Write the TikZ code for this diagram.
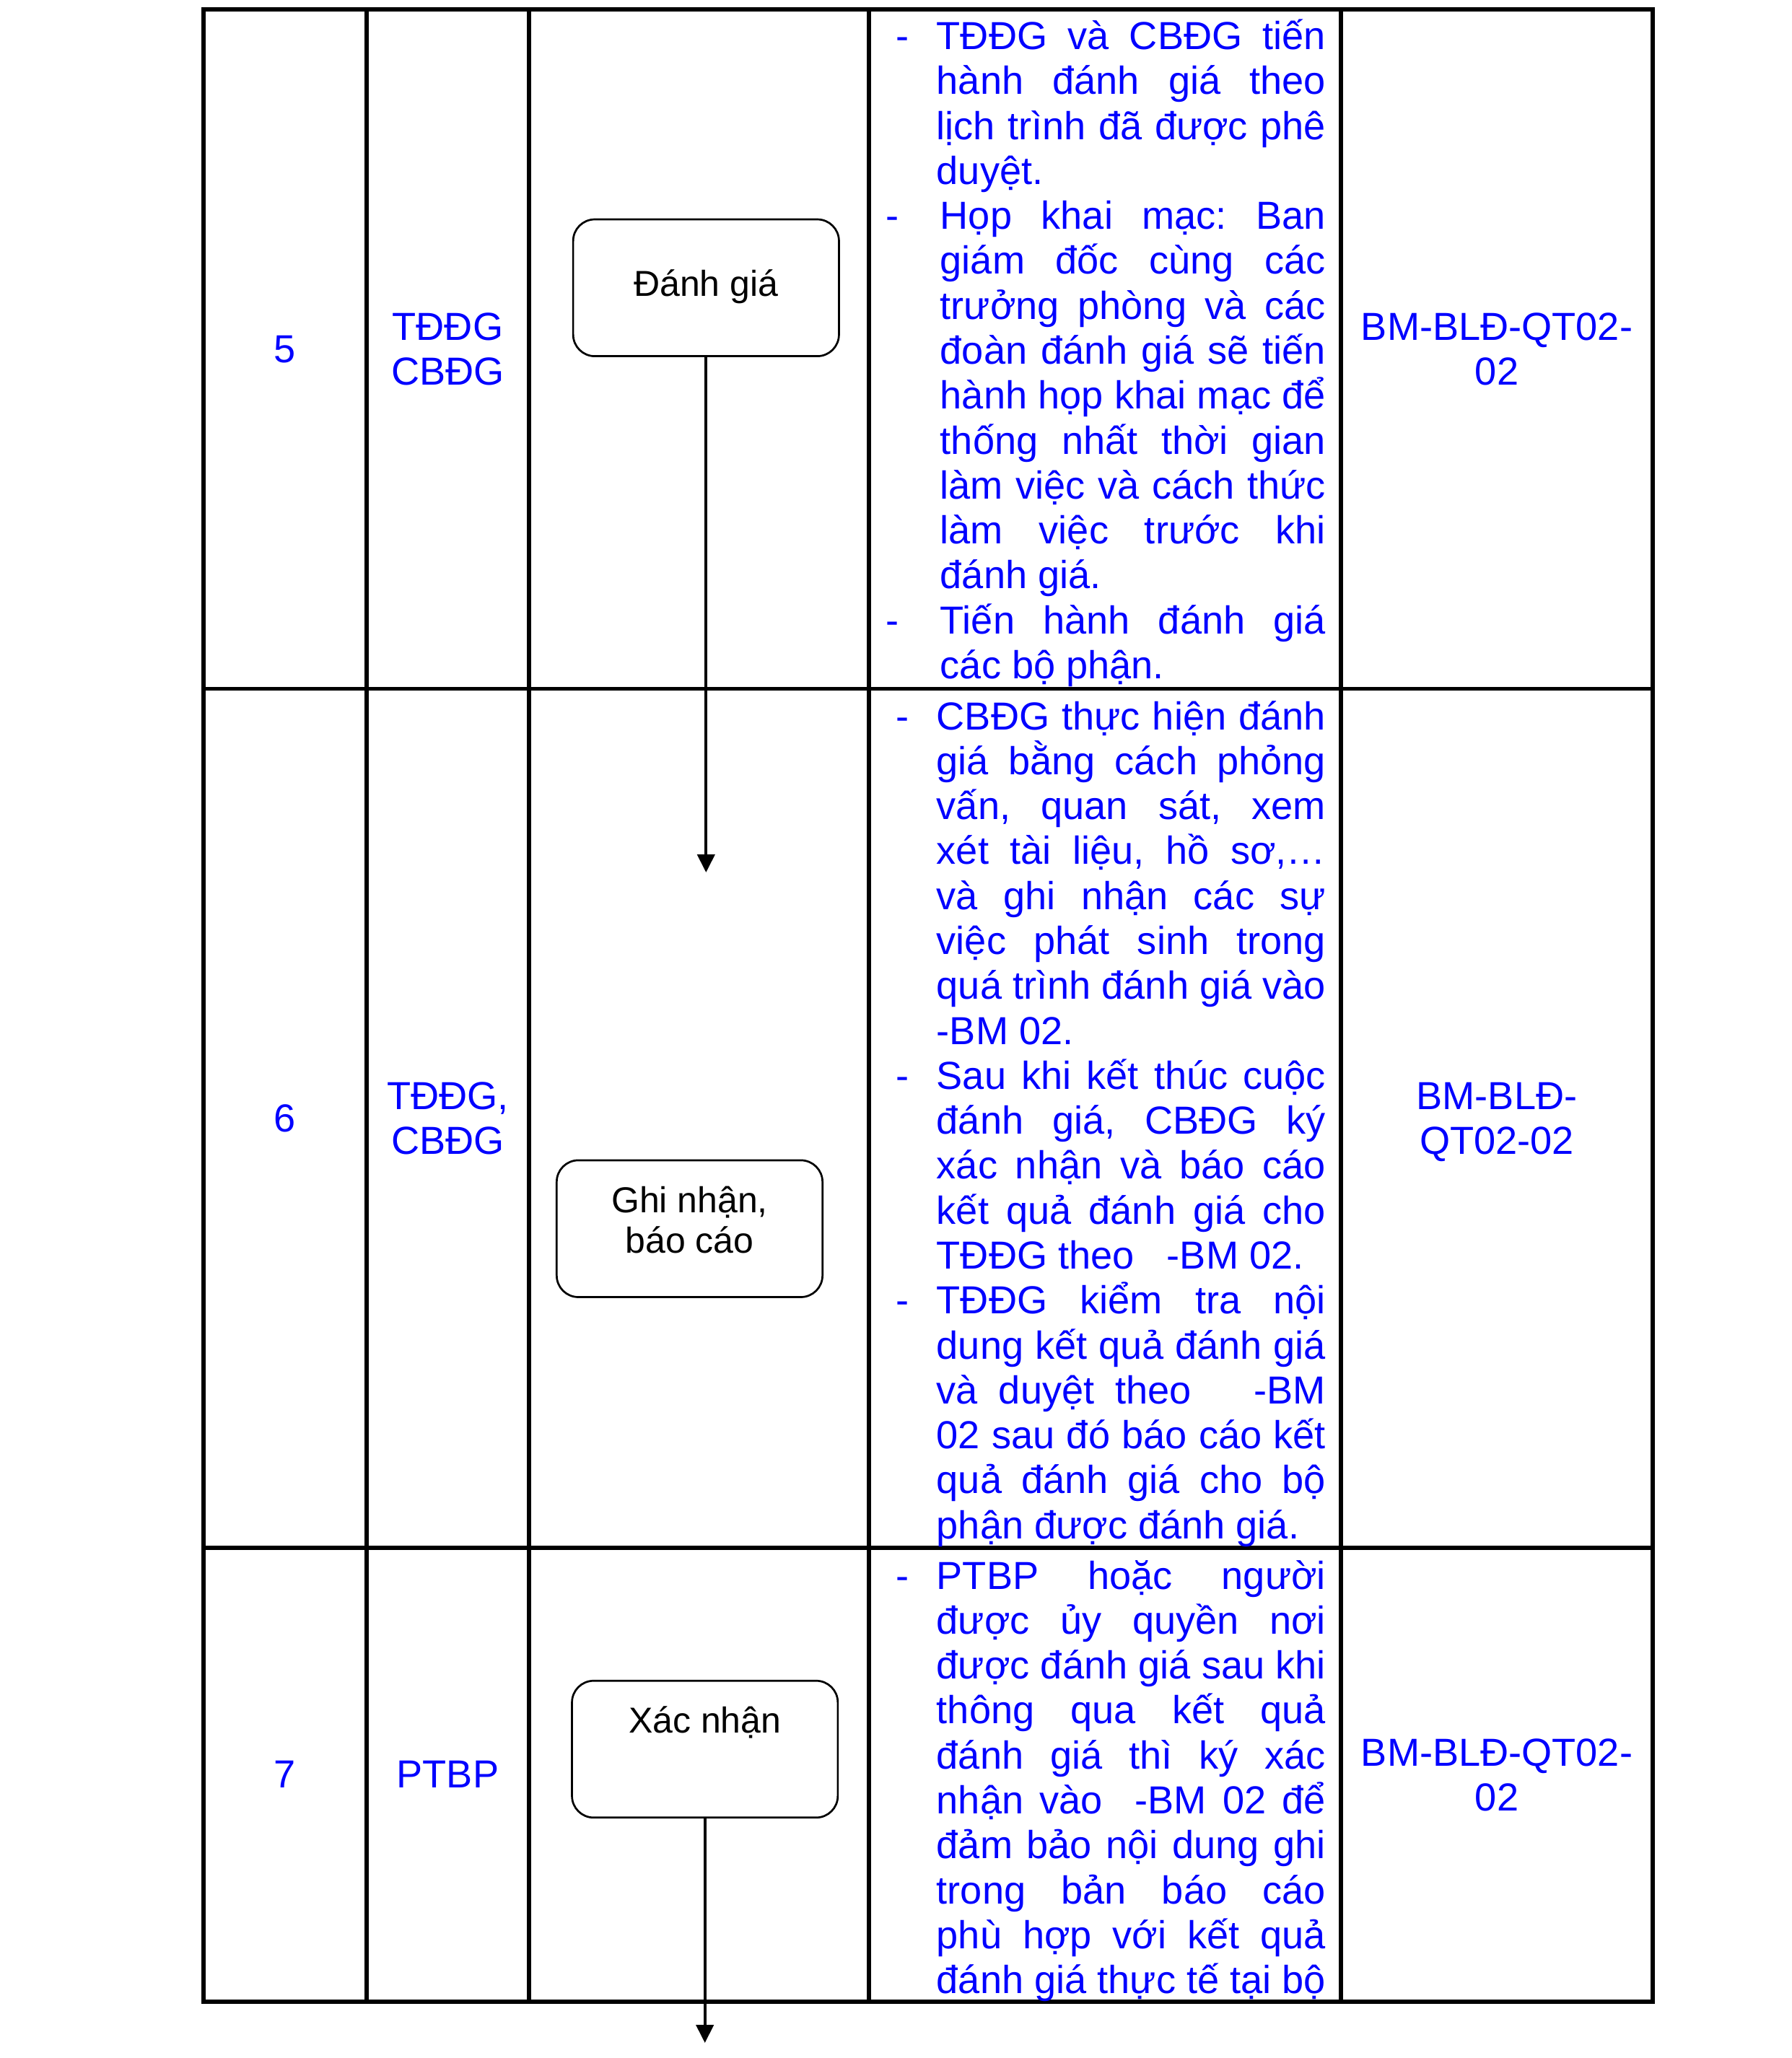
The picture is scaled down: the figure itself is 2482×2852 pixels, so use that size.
\documentclass[tikz,border=0pt]{standalone}
\usepackage{fontspec}
\setmainfont{Liberation Sans}
\usetikzlibrary{arrows.meta}
\frenchspacing
\newcommand\tf{\fontsize{13pt}{14.95pt}\selectfont}
\newcommand\bxf{\fontsize{12pt}{13.8pt}\selectfont}
\newcommand\jl[1]{\hbox to\hsize{#1}}
\newcommand\lastl[1]{\hbox{#1}}
\newcommand\dsh{\llap{\makebox[13.44pt][l]{-}}}
\newcommand\dshb{\hskip1.2pt\llap{\makebox[18pt][l]{-}}}
\newcommand\ib{\hskip1.2pt}
\newcommand\colbody[1]{\vtop{\hsize=129.4pt\baselineskip=14.95pt\lineskiplimit=-\maxdimen\lineskip=0pt\frenchspacing #1}}
\exhyphenpenalty=10000
\hyphenpenalty=10000
\tikzset{
  tbl/.style={line width=1.35pt},
  fbox/.style={draw, line width=0.65pt, rounded corners=7.2pt, inner sep=0pt,
    minimum width=88.4pt, minimum height=45.5pt},
  arr/.style={line width=0.95pt, -{Triangle[width=5.8pt,length=6pt]}},
  cell/.style={text=blue, font=\tf, inner sep=0pt, anchor=base, align=center, text width=100pt},
  desc/.style={text=blue, font=\tf, inner sep=0pt, anchor=base west},
  lbl/.style={font=\bxf, inner sep=0pt, anchor=base},
}
\begin{document}
\begin{tikzpicture}[x=0.24pt, y=-0.24pt]
\useasboundingbox (0,0) rectangle (2482,2852);
% table
\draw[tbl] (282.3,13.3) rectangle (2290,2774);
\foreach \xx in {508,733,1204,1858} \draw[tbl] (\xx,13.3) -- (\xx,2774);
\foreach \yy in {954.5,2145} \draw[tbl] (282.3,\yy) -- (2290,\yy);

% row 5
\node[cell] (n5) at (395,502) {5};
\node[cell] (w5) at (620.5,471.6) {TĐĐG\\CBĐG};
\node[cell] (f5) at (2074,471.6) {BM-BLĐ-QT02-\\02};
\node[desc] (d5) at (1297,68.5) {\colbody{%
\jl{\dsh TĐĐG và CBĐG tiến}
\jl{hành đánh giá theo}
\jl{lịch trình đã được phê}
\lastl{duyệt.}
\jl{\dshb Họp khai mạc: Ban}
\jl{\ib giám đốc cùng các}
\jl{\ib trưởng phòng và các}
\jl{\ib đoàn đánh giá sẽ tiến}
\jl{\ib hành họp khai mạc để}
\jl{\ib thống nhất thời gian}
\jl{\ib làm việc và cách thức}
\jl{\ib làm việc trước khi}
\lastl{\ib đánh giá.}
\jl{\dshb Tiến hành đánh giá}
\lastl{\ib các bộ phận.}}};

% row 6
\node[cell] (n6) at (395,1568) {6};
\node[cell] (w6) at (620.5,1537.5) {TĐĐG,\\CBĐG};
\node[cell] (f6) at (2074,1537.5) {BM-BLĐ-\\QT02-02};
\node[desc] (d6) at (1297,1011) {\colbody{%
\jl{\dsh CBĐG thực hiện đánh}
\jl{giá bằng cách phỏng}
\jl{vấn, quan sát, xem}
\jl{xét tài liệu, hồ sơ,…}
\jl{và ghi nhận các sự}
\jl{việc phát sinh trong}
\jl{quá trình đánh giá vào}
\lastl{-BM 02.}
\jl{\dsh Sau khi kết thúc cuộc}
\jl{đánh giá, CBĐG ký}
\jl{xác nhận và báo cáo}
\jl{kết quả đánh giá cho}
\lastl{TĐĐG theo\ \ \ -BM 02.}
\jl{\dsh TĐĐG kiểm tra nội}
\jl{dung kết quả đánh giá}
\jl{và duyệt theo\ \ \ -BM}
\jl{02 sau đó báo cáo kết}
\jl{quả đánh giá cho bộ}
\lastl{phận được đánh giá.}}};

% row 7
\node[cell] (n7) at (395,2477.5) {7};
\node[cell] (w7) at (620.5,2477.5) {PTBP};
\node[cell] (f7) at (2074,2447) {BM-BLĐ-QT02-\\02};
\node[desc] (d7) at (1297,2202) {\colbody{%
\jl{\dsh PTBP hoặc người}
\jl{được ủy quyền nơi}
\jl{được đánh giá sau khi}
\jl{thông qua kết quả}
\jl{đánh giá thì ký xác}
\jl{nhận vào\ \ -BM 02 để}
\jl{đảm bảo nội dung ghi}
\jl{trong bản báo cáo}
\jl{phù hợp với kết quả}
\jl{đánh giá thực tế tại bộ}}};

% flow boxes
\node[fbox] (b1) at (978.3,398.8) {};
\node[lbl] (t1) at (978.3,410) {Đánh giá};
\node[fbox] (b2) at (955.5,1702.7) {};
\node[lbl] (t2a) at (955.5,1680) {Ghi nhận,};
\node[lbl] (t2b) at (955.5,1736.7) {báo cáo};
\node[fbox] (b3) at (976.7,2424) {};
\node[lbl] (t3) at (976.7,2401) {Xác nhận};
\coordinate (e1) at (978.3,1209);
\coordinate (e2) at (976.7,2831);
\draw[arr] (b1.south) -- (e1);
\draw[arr] (b3.south) -- (e2);
\end{tikzpicture}
\end{document}
